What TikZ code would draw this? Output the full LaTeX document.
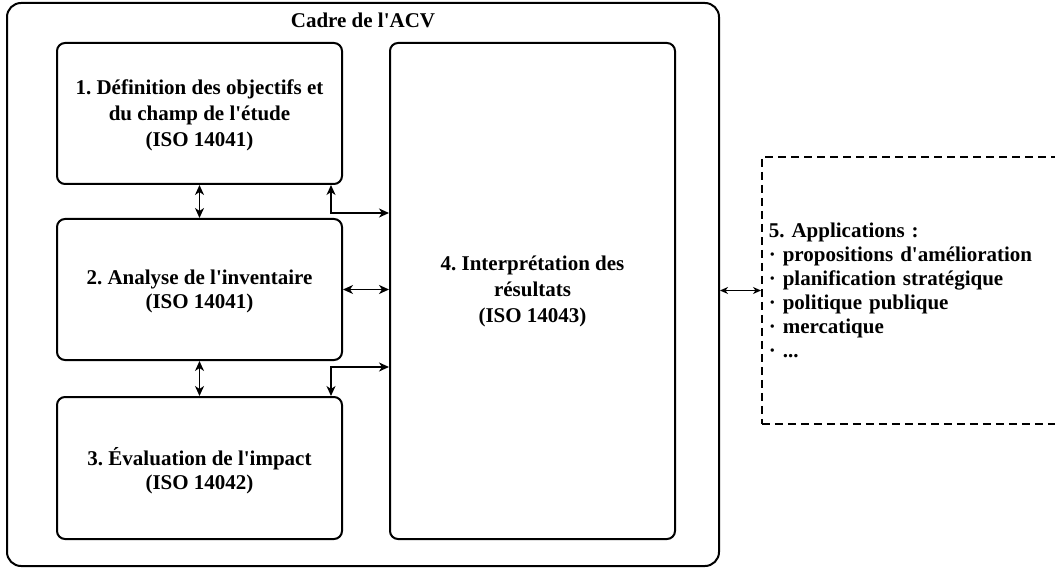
\documentclass[tikz,border=0pt]{standalone}
\usepackage{fontspec}
\setmainfont{Liberation Serif}
\usetikzlibrary{arrows.meta}
\newcommand{\aq}{\textquotesingle}
\begin{document}
\begin{tikzpicture}[x=1pt,y=-1pt,
  >={Stealth[length=10pt,width=9pt,inset=3pt]},
  txt/.style={font=\frenchspacing\bfseries\fontsize{21}{26}\selectfont},
  box/.style={txt, draw, line width=2pt, rounded corners=8pt, minimum width=285pt, align=center},
  twoline/.style={font=\frenchspacing\bfseries\fontsize{21}{24}\selectfont, text depth=0pt},
  conn/.style={<->, line width=1.6pt},
  thinconn/.style={{Stealth[length=8pt,width=7pt,inset=2.5pt]}-{Stealth[length=8pt,width=7pt,inset=2.5pt]}, line width=1pt},
]
\useasboundingbox (0,0) rectangle (1055,569);
\node[draw, line width=2pt, rounded corners=14pt, minimum width=712pt, minimum height=563pt] (frame) at (363,284.5) {};
\node[txt] (title) at (363,20) {Cadre de l\aq ACV};
\node[box, minimum height=141pt, text depth=0pt] (box1) at (199.5,113.5) {1. Définition des objectifs et\\du champ de l\aq étude\\(ISO 14041)};
\node[box, twoline, minimum height=141pt] (box2) at (199.5,289.5) {2. Analyse de l\aq inventaire\\(ISO 14041)};
\node[box, twoline, minimum height=142pt] (box3) at (199.5,468) {3. Évaluation de l\aq impact\\(ISO 14042)};
\node[box, minimum height=496pt] (box4) at (532.5,291) {4. Interprétation des\\résultats\\(ISO 14043)};
\node[draw, dash pattern=on 8pt off 5pt, line width=1.6pt, minimum height=267pt, text width=300pt, inner xsep=7pt, align=left, anchor=west, font=\frenchspacing\bfseries\fontsize{21}{24}\selectfont] (box5) at (761,290.5) {5. Applications :\\· propositions d\aq amélioration\\· planification stratégique\\· politique publique\\· mercatique\\· ...};
\draw[conn] (box1.south) -- (box2.north);
\draw[conn] (box2.south) -- (box3.north);
\draw[conn] ([xshift=-12pt]box1.south east) |- ([yshift=78pt]box4.west);
\draw[conn] (box2.east) -- (box2.east -| box4.west);
\draw[conn] ([xshift=-12pt]box3.north east) |- ([yshift=-76pt]box4.west);
\draw[thinconn] (frame.east |- box5.west) -- (box5.west);
\end{tikzpicture}
\end{document}
